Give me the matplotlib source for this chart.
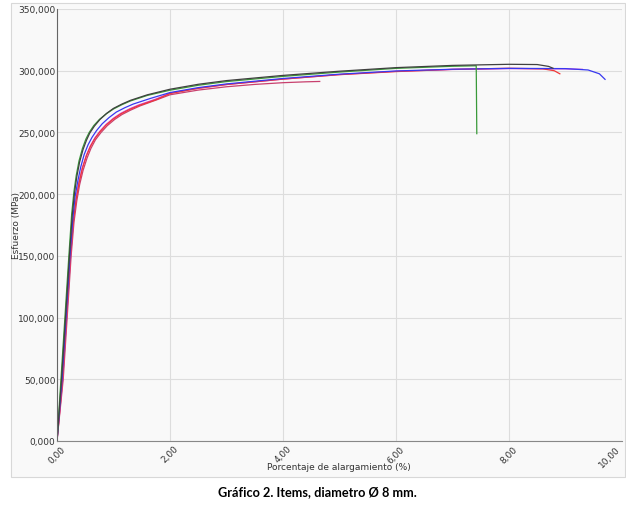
import matplotlib.pyplot as plt
from matplotlib.patches import Rectangle

# Curvas esfuerzo-deformacion (x en %, y en MPa)
green_x = [0, 0.07, 0.14, 0.21, 0.26, 0.3, 0.34, 0.39, 0.45, 0.51, 0.57, 0.65, 0.75, 0.87, 1.0, 1.15, 1.3, 1.6, 2.0, 2.5, 3.0, 4.0, 5.0, 6.0, 7.0, 7.42, 7.43]
green_y = [0, 50000, 100000, 150000, 184000, 202000, 215000, 227000, 237000, 244500, 250000, 255500, 260500, 265000, 269000, 272500, 275500, 280000, 284200, 288200, 291200, 295400, 298900, 301900, 303600, 304000, 249000]

black_x = [0, 0.08, 0.15, 0.22, 0.27, 0.31, 0.35, 0.4, 0.46, 0.52, 0.58, 0.66, 0.76, 0.88, 1.0, 1.15, 1.3, 1.6, 2.0, 2.5, 3.0, 4.0, 5.0, 6.0, 7.0, 8.0, 8.5, 8.7, 8.78]
black_y = [0, 50000, 100000, 150000, 183000, 201000, 214000, 226000, 236000, 243500, 249500, 255000, 260500, 265500, 269500, 273000, 276000, 280500, 285000, 289000, 292000, 296200, 299600, 302500, 304300, 305200, 305000, 303500, 302000]

blue_x = [0, 0.09, 0.16, 0.23, 0.28, 0.32, 0.37, 0.42, 0.48, 0.55, 0.62, 0.7, 0.8, 0.92, 1.05, 1.2, 1.35, 1.65, 2.0, 2.5, 3.0, 4.0, 5.0, 6.0, 7.0, 8.0, 9.0, 9.4, 9.6, 9.7]
blue_y = [0, 50000, 100000, 150000, 180000, 198000, 211000, 222000, 232000, 240000, 246000, 251500, 257000, 262000, 266500, 270000, 273000, 277500, 282300, 286300, 289300, 293700, 297200, 299800, 301200, 301900, 301700, 300600, 297500, 293000]

red_x = [0, 0.1, 0.17, 0.24, 0.29, 0.34, 0.39, 0.45, 0.52, 0.59, 0.67, 0.76, 0.87, 1.0, 1.13, 1.28, 1.45, 1.75, 2.0, 2.5, 3.0, 4.0, 5.0, 6.0, 7.0, 8.0, 8.6, 8.8, 8.9]
red_y = [0, 50000, 100000, 150000, 178000, 196000, 209000, 221000, 231000, 238500, 245000, 250500, 256000, 261000, 265000, 268500, 271800, 276500, 281500, 285700, 288800, 293200, 296800, 299300, 301100, 302000, 301500, 300000, 297500]

magenta_x = [0, 0.1, 0.17, 0.24, 0.29, 0.34, 0.39, 0.45, 0.52, 0.59, 0.67, 0.76, 0.87, 1.0, 1.13, 1.28, 1.45, 1.75, 2.0, 2.5, 3.0, 4.0, 5.0, 6.0, 7.0, 8.0, 9.0, 9.3]
magenta_y = [0, 50000, 100000, 150000, 179000, 197000, 210000, 221500, 231500, 239000, 245500, 251000, 256500, 261500, 265500, 269000, 272300, 277000, 281800, 285800, 288800, 293200, 296900, 299500, 301000, 301700, 301500, 301100]

maroon_x = [0, 0.11, 0.18, 0.25, 0.3, 0.35, 0.4, 0.46, 0.53, 0.6, 0.68, 0.78, 0.89, 1.02, 1.15, 1.3, 1.47, 1.77, 2.0, 2.5, 3.0, 3.5, 4.0, 4.4, 4.65]
maroon_y = [0, 50000, 100000, 150000, 177000, 194500, 207500, 219000, 229000, 237000, 244000, 250000, 255500, 260500, 264500, 268000, 271500, 276500, 280500, 284300, 287000, 288900, 290300, 291000, 291300]

xticks = [0, 2, 4, 6, 8, 10]
xtick_labels = ['0,00', '2,00', '4,00', '6,00', '8,00', '10,00']
yticks = [0, 50000, 100000, 150000, 200000, 250000, 300000, 350000]
ytick_labels = ['0,000', '50,000', '100,000', '150,000', '200,000', '250,000', '300,000', '350,000']

fig = plt.figure(figsize=(6.26, 5.06), dpi=100)
fig.patch.set_facecolor('white')
# panel gris del grafico (detras de los ejes)
fig.patches.append(Rectangle((11 / 626, 1 - 478 / 506), 614 / 626, 474 / 506,
                             transform=fig.transFigure, facecolor='#f9f9f9',
                             edgecolor='#d8d8d8', linewidth=0.8, zorder=-5))

ax = fig.add_axes([57 / 626, 1 - 442 / 506, 565 / 626, 432 / 506])
ax.set_zorder(2)
ax.set_facecolor('#f9f9f9')

lw = 0.9
ax.plot(maroon_x, maroon_y, color='#c8406e', lw=lw)
ax.plot(magenta_x, magenta_y, color='#d040d8', lw=lw)
ax.plot(red_x, red_y, color='#f03838', lw=lw)
ax.plot(blue_x, blue_y, color='#3838f0', lw=lw)
ax.plot(green_x, green_y, color='#3a9a3a', lw=lw)
ax.plot(black_x, black_y, color='#404040', lw=lw)

ax.set_xlim(0, 10)
ax.set_ylim(0, 350000)
ax.set_xticks(xticks)
ax.set_xticklabels(xtick_labels, rotation=45, ha='center', va='top',
                   fontsize=6.5, color='#333333')
# la ultima etiqueta queda pegada al borde
ax.get_xticklabels()[-1].set_horizontalalignment('right')
ax.set_yticks(yticks)
ax.set_yticklabels(ytick_labels, fontsize=6.5, color='#333333')
ax.tick_params(length=0, pad=1)
ax.tick_params(axis='x', pad=2)
ax.grid(True, color='#dddddd', linewidth=0.8)
ax.set_axisbelow(True)

for side in ['top', 'right']:
    ax.spines[side].set_visible(False)
ax.spines['left'].set_color('#666666')
ax.spines['bottom'].set_color('#888888')

ax.set_ylabel('Esfuerzo (MPa)', fontsize=6.5, color='#333333')
ax.yaxis.set_label_coords(-0.064, 0.5)
fig.text(339 / 626, 1 - 468 / 506, 'Porcentaje de alargamiento (%)', ha='center', va='center',
         fontsize=6.5, color='#333333')

fig.text(317 / 626, 1 - 492 / 506, 'Gráfico 2. Items, diametro Ø 8 mm.', ha='center', va='center',
         fontsize=9.2, fontweight='bold', family=['Lato', 'DejaVu Sans'])

fig.savefig('out.png', dpi=100)
